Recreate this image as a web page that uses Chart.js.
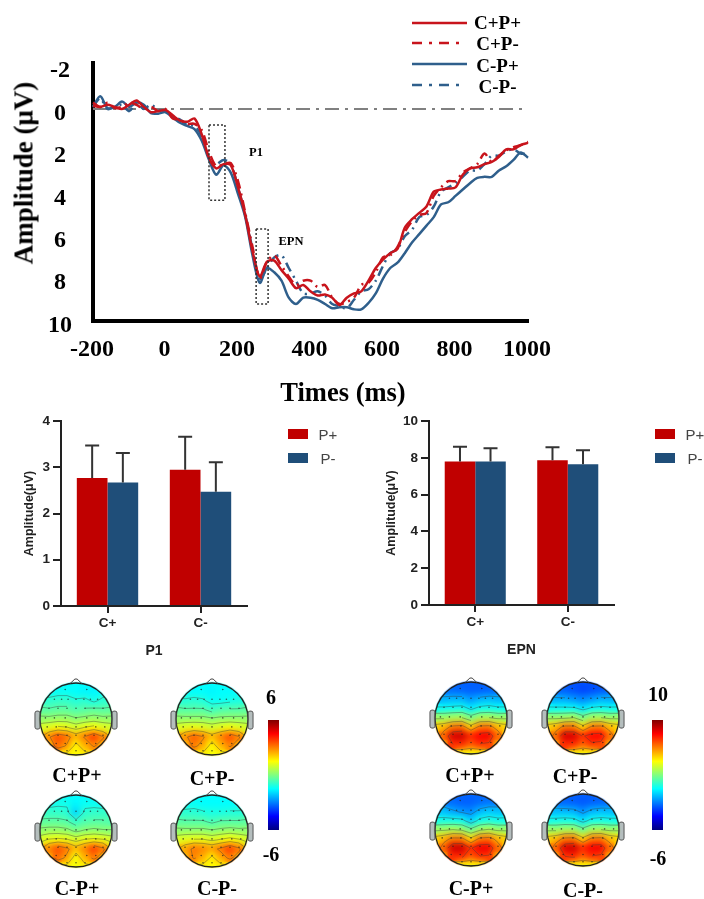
<!DOCTYPE html>
<html>
<head>
<meta charset="utf-8">
<title>ERP amplitudes and topographies</title>
<script src="https://cdn.jsdelivr.net/npm/chart.js@4"></script>
<style>
    html, body { margin: 0; padding: 0; background: #fff; }
    #page { position: relative; width: 704px; height: 899px; overflow: hidden; filter: blur(0.5px); }
    canvas { position: absolute; }
    .lbl { position: absolute; transform: translate(-50%, -50%); white-space: nowrap; }
    .serif { font: bold 20px "Liberation Serif", serif; color: #000; }
    .sans { font: 15px "Liberation Sans", sans-serif; color: #444; }
    .swatch { position: absolute; width: 20px; height: 10px; }
</style>
</head>
<body>
<div id="page"></div>
<script>
const COLORS = {
    RED: '#C00000',
    BLUE: '#1F4E79',
    LINE_RED: '#C8141C',
    LINE_BLUE: '#2F5F8C',
    ZERO: '#808080',
    AXIS: '#222'
};
const SERIF = '"Liberation Serif", serif';
const SANS = '"Liberation Sans", sans-serif';

// ERP waveforms, every 20 ms
const times = [-200, -180, -160, -140, -120, -100, -80, -60, -40, -20, 0, 20, 40, 60, 80, 100, 120, 140, 160, 180,
    200, 220, 240, 260, 280, 300, 320, 340, 360, 380, 400, 420, 440, 460, 480, 500, 520, 540, 560, 580,
    600, 620, 640, 660, 680, 700, 720, 740, 760, 780, 800, 820, 840, 860, 880, 900, 920, 940, 960, 980, 1000];
const cPlusPPlus = [-.15, -.1, -.2, -.1, 0, -.2, -.4, -.1, .15, .1, .05, .3, .55, .6, .45, 1.2, 2.3, 2.8, 2.6, 2.65,
    3.7, 5, 6.7, 7.9, 7.2, 7.15, 7.6, 8, 8.45, 8.3, 8.6, 8.8, 8.75, 8.9, 9.25, 8.9, 8.7, 8.6, 8.1, 7.5,
    7.1, 6.8, 6.6, 5.6, 5.2, 4.9, 4.6, 3.9, 3.8, 3.75, 3.7, 3.1, 2.8, 2.75, 2.6, 2.5, 2.25, 1.9, 1.9, 1.7, 1.6];
const cPlusPMinus = [-.3, -.1, -.3, -.05, -.1, -.3, -.2, 0, -.1, .1, 0, .45, .5, .7, .7, 1, 2, 2.7, 2.6, 2.55,
    3.4, 4.9, 6.5, 8, 7.2, 6.9, 7.4, 7.9, 8.3, 8.1, 8.1, 8.4, 8.3, 8.9, 9.2, 9.1, 8.9, 8.3, 8.2, 7.7,
    7, 6.9, 6.5, 5.8, 5.3, 5, 4.9, 4.1, 3.7, 3.4, 3.4, 3, 2.8, 2.6, 2.1, 2.5, 2.2, 1.95, 1.8, 1.7, 1.55];
const cMinusPPlus = [-.1, -.6, -.05, -.1, -.35, -.1, -.3, -.2, .2, .22, .15, .4, .65, .8, .95, 1.5, 2.4, 3.1, 2.65, 3,
    4, 5.1, 6.9, 8.2, 7.5, 7.7, 8.1, 8.9, 9.2, 8.9, 8.9, 9, 9.2, 9.4, 9.35, 9.35, 9.45, 9.45, 9.15, 8.7,
    8, 7.5, 7.25, 6.8, 6.3, 5.9, 5.5, 5.1, 4.5, 4.4, 4.1, 3.8, 3.5, 3.25, 3.2, 3.2, 2.9, 2.7, 2.4, 2.05, 2.3];
const cMinusPMinus = [-.1, -.5, 0, -.1, -.2, .1, -.3, 0, -.2, .05, .1, .35, .5, .75, .8, 1.3, 2.3, 2.6, 2.4, 2.6,
    3.7, 5, 6.6, 8, 7.5, 7, 6.9, 7.5, 8.1, 8.7, 8.7, 8.6, 8.8, 9.2, 9.3, 9.4, 9, 8.6, 8.5, 8.1,
    7.4, 6.8, 6.6, 6, 5.7, 5.1, 5, 4.6, 3.9, 3.7, 3.5, 3.2, 2.9, 2.9, 2.6, 2.2, 2.2, 2, 1.9, 2.1, 2.1];
const yTickValues = [-2, 0, 2, 4, 6, 8, 10];
const xTickValues = [-200, 0, 200, 400, 600, 800, 1000];

// dotted windows on the waveform plot: ms range and amplitude range
const windowFrom = [120, 250];
const windowTo = [164, 283];
const windowTop = [.75, 5.66];
const windowBottom = [4.3, 9.2];

// bar charts, the error arrays hold the top of each whisker
const barCategories = ['C+', 'C-'];
const p1PPlus = [2.77, 2.95];
const p1PMinus = [2.67, 2.47];
const p1PPlusErr = [3.47, 3.66];
const p1PMinusErr = [3.31, 3.11];
const epnPPlus = [7.8, 7.87];
const epnPMinus = [7.8, 7.65];
const epnPPlusErr = [8.6, 8.58];
const epnPMinusErr = [8.53, 8.42];

// scalp maps: values on a 9x9 grid, top row is the front of the head
const gridX = [-1, -.75, -.5, -.25, 0, .25, .5, .75, 1];
const gridY = [1, .75, .5, .25, 0, -.25, -.5, -.75, -1];
const electrodeRows = [.82, .55, .3, .03, -.22, -.45, -.68, -.88];
const electrodeCols = [
    [-.3, .3],
    [-.6, -.4, -.22, 0, .22, .4, .6],
    [-.75, -.5, -.25, 0, .25, .5, .75],
    [-.85, -.6, -.3, 0, .3, .6, .85],
    [-.8, -.55, -.28, 0, .28, .55, .8],
    [-.75, -.5, -.25, 0, .25, .5, .75],
    [-.55, -.3, 0, .3, .55],
    [-.25, 0, .25]
];
const p1Levels = [-1.2, -.6, 0, .6, 1.2, 1.9, 2.9];
const epnLevels = [-1.6, -.2, 1.2, 2.6, 4, 5.6, 7.4];

const p1MapCPlusPPlus = [
    [-1.5, -1.5, -1.5, -1.5, -1.5, -1.5, -1.5, -1.5, -1.5],
    [-1.5, -1.5, -1.4, -1.4, -1.5, -1.6, -1.6, -1.5, -1.4],
    [-1, -1, -.9, -.9, -1.1, -1, -1.3, -1, -1],
    [-.4, -.5, -.4, -.4, -.6, -.5, -.4, -.5, -.4],
    [.2, .2, .3, .3, .1, .2, .3, .2, .2],
    [1, 1.2, 1.4, 1.3, 1, 1.3, 1.5, 1.2, 1],
    [1.8, 2.8, 3.6, 3.2, 2.4, 3, 3.8, 3, 1.8],
    [1.5, 2.2, 3.3, 2.8, 1.6, 2.4, 3, 2.4, 1.5],
    [1.4, 1.5, 1.6, 1.6, 1.5, 1.6, 1.6, 1.5, 1.4]
];
const p1MapCPlusPMinus = [
    [-1.5, -1.5, -1.5, -1.5, -1.5, -1.5, -1.5, -1.5, -1.5],
    [-1.5, -1.5, -1.5, -1.5, -1.6, -1.5, -1.5, -1.5, -1.5],
    [-1, -1.1, -1, -1.1, -1.4, -1.4, -1.3, -1.2, -1],
    [-.4, -.5, -.5, -.5, -.8, -.6, -.5, -.5, -.4],
    [.2, .2, .2, .2, .1, .2, .2, .2, .2],
    [1, 1.2, 1.3, 1.2, 1, 1.2, 1.4, 1.2, 1],
    [1.8, 2.7, 3.4, 3, 2.3, 2.9, 3.6, 3, 1.8],
    [1.5, 2.2, 3.1, 2.6, 1.5, 2.4, 3, 2.4, 1.5],
    [1.4, 1.5, 1.6, 1.6, 1.4, 1.5, 1.6, 1.5, 1.4]
];
const p1MapCMinusPPlus = [
    [-1.5, -1.5, -1.5, -1.5, -1.5, -1.5, -1.5, -1.5, -1.5],
    [-1.5, -1.4, -1.3, -1.3, -1.6, -1.4, -1.4, -1.5, -1.5],
    [-1, -.9, -.9, -1, -2, -1, -.9, -.9, -1],
    [-.4, -.4, -.4, -.5, -.9, -.6, -.5, -.5, -.6],
    [.2, .3, .3, .2, -.1, .1, .2, .1, .1],
    [1, 1.3, 1.4, 1.3, 1, 1.3, 1.4, 1.3, 1],
    [1.8, 2.9, 3.6, 3.1, 2.3, 2.9, 3.8, 3.1, 1.8],
    [1.5, 2.3, 3.3, 2.7, 1.4, 2.4, 3.1, 2.4, 1.5],
    [1.4, 1.5, 1.6, 1.6, 1.4, 1.6, 1.6, 1.5, 1.4]
];
const p1MapCMinusPMinus = [
    [-1.5, -1.5, -1.5, -1.5, -1.5, -1.5, -1.5, -1.5, -1.5],
    [-1.5, -1.5, -1.4, -1.5, -1.5, -1.5, -1.5, -1.5, -1.5],
    [-1, -1, -1, -1.1, -1.2, -1.2, -1.1, -1.1, -1],
    [-.4, -.5, -.5, -.5, -.7, -.5, -.5, -.5, -.4],
    [.2, .2, .2, .2, .1, .2, .3, .2, .2],
    [1, 1.2, 1.3, 1.3, 1.1, 1.3, 1.5, 1.3, 1],
    [1.8, 2.5, 3.1, 2.9, 2.6, 3.1, 3.8, 3.1, 1.8],
    [1.5, 2.2, 3, 2.5, 1.7, 2.5, 3.1, 2.4, 1.5],
    [1.4, 1.5, 1.6, 1.6, 1.5, 1.6, 1.6, 1.5, 1.4]
];
const epnMapCPlusPPlus = [
    [-2.5, -2.5, -2.5, -2.5, -2.5, -2.5, -2.5, -2.5, -2.5],
    [-2.3, -2.3, -2.3, -2.4, -2.5, -2.5, -2.4, -2.3, -2.3],
    [-1.2, -1.2, -1.1, -1.1, -1.6, -1.2, -1, -1.2, -1.2],
    [.1, .1, .2, .3, -.3, .2, .3, .1, .1],
    [2.4, 2.4, 2.6, 2.7, 1.8, 2.6, 2.7, 2.4, 2.4],
    [4.6, 5, 6, 6.2, 4.6, 6, 6.1, 5, 4.6],
    [4.5, 6.4, 8.6, 8.8, 7.4, 8, 8.2, 6.4, 4.5],
    [4, 5.2, 7.3, 7.4, 6.6, 7.3, 7.1, 5.2, 4],
    [3.5, 3.6, 3.8, 3.9, 3.9, 3.9, 3.8, 3.6, 3.5]
];
const epnMapCPlusPMinus = [
    [-2.6, -2.6, -2.6, -2.7, -2.7, -2.7, -2.6, -2.6, -2.6],
    [-2.4, -2.4, -2.5, -2.7, -2.9, -2.8, -2.6, -2.4, -2.4],
    [-1.2, -1.3, -1.3, -1.6, -1.9, -1.6, -1.2, -1.3, -1.2],
    [.1, .1, .1, .1, -.4, .1, .2, .1, .1],
    [2.4, 2.4, 2.5, 2.7, 1.8, 2.6, 2.7, 2.4, 2.4],
    [4.6, 5, 6, 6, 4.5, 5.9, 6, 5, 4.6],
    [4.5, 6.3, 8.6, 8.6, 7.3, 7.9, 8, 6.3, 4.5],
    [4, 5.2, 7.4, 7.4, 6.5, 7.2, 7, 5.2, 4],
    [3.5, 3.6, 3.8, 3.9, 3.9, 3.9, 3.8, 3.6, 3.5]
];
const epnMapCMinusPPlus = [
    [-2.4, -2.4, -2.4, -2.4, -2.4, -2.4, -2.4, -2.4, -2.4],
    [-2, -2.1, -2.3, -2.5, -2.5, -2.3, -2.2, -2.1, -2],
    [-.9, -1, -1.4, -1.7, -1.9, -1.2, -.8, -1, -.9],
    [.2, .3, .3, .2, -.8, .2, .4, .2, .2],
    [2.4, 2.5, 2.7, 2.5, 1.6, 2.5, 2.8, 2.4, 2.4],
    [4.6, 5.1, 6, 6, 4.4, 6, 6.2, 5.1, 4.6],
    [4.5, 6.4, 8.7, 8.8, 7.3, 8.2, 8.2, 6.4, 4.5],
    [4, 5.2, 7.4, 7.5, 6.6, 7.3, 7.2, 5.2, 4],
    [3.5, 3.6, 3.8, 3.9, 3.9, 3.9, 3.8, 3.6, 3.5]
];
const epnMapCMinusPMinus = [
    [-2.5, -2.5, -2.5, -2.5, -2.5, -2.5, -2.5, -2.5, -2.5],
    [-2.3, -2.3, -2.4, -2.5, -2.6, -2.5, -2.4, -2.3, -2.3],
    [-1.1, -1.1, -1.1, -1.2, -1.8, -1.2, -1, -1.1, -1.1],
    [.2, .2, .3, .2, -.5, .2, .3, .2, .2],
    [2.4, 2.4, 2.6, 2.6, 1.7, 2.6, 2.7, 2.4, 2.4],
    [4.6, 5, 6, 6.1, 4.5, 6, 6.1, 5, 4.6],
    [4.5, 6.4, 8.5, 8.8, 7.4, 8.1, 8.2, 6.4, 4.5],
    [4, 5.2, 7.3, 7.5, 6.6, 7.3, 7.1, 5.2, 4],
    [3.5, 3.6, 3.8, 3.9, 3.9, 3.9, 3.8, 3.6, 3.5]
];

const page = document.getElementById('page');

const addCanvas = (left, top, width, height) => {
    const canvas = document.createElement('canvas');
    canvas.width = width;
    canvas.height = height;
    canvas.style.left = `${left}px`;
    canvas.style.top = `${top}px`;
    page.appendChild(canvas);
    return canvas;
};

const addLabel = (text, x, y, cls, size, rotate) => {
    const el = document.createElement('div');
    el.className = `lbl ${cls}`;
    el.textContent = text;
    el.style.left = `${x}px`;
    el.style.top = `${y}px`;
    if (size) el.style.fontSize = `${size}px`;
    if (rotate) el.style.transform = `translate(-50%, -50%) rotate(${rotate}deg)`;
    page.appendChild(el);
};

/**
 * Jet colour map, t runs from 0 to 1.
 */
const jet = t => {
    const ch = c => Math.round(255 * Math.min(1, Math.max(0, 1.5 - Math.abs(4 * t - c))));
    return `rgb(${ch(3)}, ${ch(2)}, ${ch(1)})`;
};

/* ---------- waveform plot ---------- */

const toPoints = values => times.map((t, i) => ({ x: t, y: values[i] }));

const windowsPlugin = {
    id: 'windows',
    afterDatasetsDraw(chart) {
        const { ctx, scales } = chart;
        ctx.save();
        ctx.strokeStyle = '#333';
        ctx.lineWidth = 1.5;
        ctx.setLineDash([2, 2]);
        windowFrom.forEach((from, i) => {
            const x0 = scales.x.getPixelForValue(from);
            const x1 = scales.x.getPixelForValue(windowTo[i]);
            const y0 = scales.y.getPixelForValue(windowTop[i]);
            const y1 = scales.y.getPixelForValue(windowBottom[i]);
            ctx.strokeRect(x0, y0, x1 - x0, y1 - y0);
        });
        ctx.restore();
    }
};

const waveDataset = (label, values, color, dash) => ({
    label,
    data: toPoints(values),
    showLine: true,
    borderColor: color,
    borderWidth: 2.5,
    borderDash: dash || [],
    pointRadius: 0,
    tension: 0.3,
    clip: false
});

new Chart(addCanvas(0, 0, 704, 410), {
    type: 'scatter',
    data: {
        datasets: [
            waveDataset('C+P+', cPlusPPlus, COLORS.LINE_RED),
            waveDataset('C+P-', cPlusPMinus, COLORS.LINE_RED, [10, 5, 2, 5]),
            waveDataset('C-P+', cMinusPPlus, COLORS.LINE_BLUE),
            waveDataset('C-P-', cMinusPMinus, COLORS.LINE_BLUE, [10, 5, 2, 5]),
            {
                label: 'baseline',
                data: [{ x: -200, y: 0 }, { x: 1000, y: 0 }],
                showLine: true,
                borderColor: COLORS.ZERO,
                borderWidth: 2,
                borderDash: [14, 6, 3, 6],
                pointRadius: 0
            }
        ]
    },
    options: {
        responsive: false,
        animation: false,
        layout: { padding: { left: 0, right: 176, top: 63, bottom: 0 } },
        plugins: { legend: { display: false }, tooltip: { enabled: false } },
        scales: {
            x: {
                type: 'linear',
                min: -200,
                max: 1000,
                afterFit: scale => { scale.height = 89; },
                afterBuildTicks: scale => { scale.ticks = xTickValues.map(value => ({ value })); },
                grid: { display: false },
                border: { color: '#000', width: 4 },
                ticks: {
                    color: '#000',
                    padding: 6,
                    labelOffset: -1,
                    maxRotation: 0,
                    autoSkip: false,
                    font: { family: SERIF, size: 24, weight: 'bold' },
                    callback: v => String(v)
                }
            },
            y: {
                reverse: true,
                min: -2.17,
                max: 10,
                afterFit: scale => { scale.width = 93; },
                afterBuildTicks: scale => { scale.ticks = yTickValues.map(value => ({ value })); },
                grid: { display: false },
                border: { color: '#000', width: 4 },
                ticks: {
                    color: '#000',
                    padding: 13,
                    labelOffset: 4.5,
                    crossAlign: 'center',
                    autoSkip: false,
                    font: { family: SERIF, size: 24, weight: 'bold' },
                    callback: v => String(v)
                }
            }
        }
    },
    plugins: [windowsPlugin]
});

addLabel('Amplitude (μV)', 24, 173, 'serif', 27, -90);
addLabel('Times (ms)', 343, 392, 'serif', 26.5);
addLabel('P1', 256, 152, 'serif', 12.5);
addLabel('EPN', 291, 241, 'serif', 12.5);

// legend of the waveform plot
const legendSvg = document.createElementNS('http://www.w3.org/2000/svg', 'svg');
legendSvg.setAttribute('width', '704');
legendSvg.setAttribute('height', '100');
legendSvg.style.position = 'absolute';
legendSvg.style.left = '0';
legendSvg.style.top = '0';
const legendRows = [
    ['C+P+', 23, 467, COLORS.LINE_RED, '', 497.5, 23],
    ['C+P-', 43, 461, COLORS.LINE_RED, '10 7 3 7', 497.5, 44],
    ['C-P+', 64, 467, COLORS.LINE_BLUE, '', 497.5, 66],
    ['C-P-', 85, 461, COLORS.LINE_BLUE, '10 7 3 7', 497.5, 87]
];
legendRows.forEach(([text, y, x2, color, dash, tx, ty]) => {
    const line = document.createElementNS('http://www.w3.org/2000/svg', 'line');
    line.setAttribute('x1', '412');
    line.setAttribute('x2', String(x2));
    line.setAttribute('y1', String(y));
    line.setAttribute('y2', String(y));
    line.setAttribute('stroke', color);
    line.setAttribute('stroke-width', '2.5');
    if (dash) line.setAttribute('stroke-dasharray', dash);
    legendSvg.appendChild(line);
    addLabel(text, tx, ty, 'serif', 19);
});
page.appendChild(legendSvg);

/* ---------- bar charts ---------- */

const errorBarsPlugin = {
    id: 'errorBars',
    afterDatasetsDraw(chart) {
        const { ctx, scales } = chart;
        ctx.save();
        ctx.strokeStyle = '#333';
        ctx.lineWidth = 2;
        chart.data.datasets.forEach((ds, i) => {
            chart.getDatasetMeta(i).data.forEach((bar, j) => {
                const top = scales.y.getPixelForValue(ds.errorTop[j]);
                ctx.beginPath();
                ctx.moveTo(bar.x, bar.y);
                ctx.lineTo(bar.x, top);
                ctx.moveTo(bar.x - 7, top);
                ctx.lineTo(bar.x + 7, top);
                ctx.stroke();
            });
        });
        ctx.restore();
    }
};

const barChart = (cfg) => new Chart(addCanvas(cfg.left, 410, 280, 260), {
    type: 'bar',
    data: {
        labels: barCategories,
        datasets: [
            { label: 'P+', data: cfg.plus, errorTop: cfg.plusErr, backgroundColor: COLORS.RED, barPercentage: 1, categoryPercentage: 0.66 },
            { label: 'P-', data: cfg.minus, errorTop: cfg.minusErr, backgroundColor: COLORS.BLUE, barPercentage: 1, categoryPercentage: 0.66 }
        ]
    },
    options: {
        responsive: false,
        animation: false,
        layout: { padding: { left: 0, right: cfg.right, top: cfg.top, bottom: 0 } },
        plugins: { legend: { display: false }, tooltip: { enabled: false } },
        scales: {
            x: {
                afterFit: scale => { scale.height = cfg.xHeight; },
                grid: { offset: false, drawOnChartArea: false, color: COLORS.AXIS, lineWidth: 2, tickLength: 7 },
                border: { color: COLORS.AXIS, width: 2 },
                ticks: { color: '#222', padding: 2, font: { family: SANS, size: 13.5, weight: 'bold' } },
                title: {
                    display: true,
                    text: cfg.title,
                    color: '#222',
                    padding: { top: 0, bottom: cfg.titlePad },
                    font: { family: SANS, size: 14, weight: 'bold' }
                }
            },
            y: {
                min: 0,
                max: cfg.max,
                afterFit: scale => { scale.width = cfg.axisX; },
                grid: { drawOnChartArea: false, color: COLORS.AXIS, lineWidth: 2, tickLength: 8 },
                border: { color: COLORS.AXIS, width: 2 },
                ticks: { color: '#222', stepSize: cfg.step, padding: 3, font: { family: SANS, size: 13.5, weight: 'bold' } },
                title: {
                    display: true,
                    text: 'Amplitude(μV)',
                    color: '#222',
                    padding: { top: cfg.yTitlePad, bottom: 0 },
                    font: { family: SANS, size: 12.5, weight: 'bold' }
                }
            }
        }
    },
    plugins: [errorBarsPlugin]
});

barChart({ left: 0, title: 'P1', plus: p1PPlus, minus: p1PMinus, plusErr: p1PPlusErr, minusErr: p1PMinusErr,
    max: 4, step: 1, axisX: 61, right: 33, top: 10, xHeight: 64, titlePad: 10.6, yTitlePad: 22.5 });
barChart({ left: 352, title: 'EPN', plus: epnPPlus, minus: epnPMinus, plusErr: epnPPlusErr, minusErr: epnPMinusErr,
    max: 10, step: 2, axisX: 77, right: 18, top: 10.7, xHeight: 65, titlePad: 11.6, yTitlePad: 32.5 });

const addBarLegend = x => {
    [[429, COLORS.RED, 'P+'], [453, COLORS.BLUE, 'P-']].forEach(([y, color, text]) => {
        const swatch = document.createElement('div');
        swatch.className = 'swatch';
        swatch.style.left = `${x}px`;
        swatch.style.top = `${y}px`;
        swatch.style.background = color;
        page.appendChild(swatch);
        addLabel(text, x + 40, y + 5, 'sans');
    });
};
addBarLegend(288);
addBarLegend(655);

/* ---------- scalp maps ---------- */

const contourSegments = (grid, level, xs, ys) => {
    const segments = [];
    const cross = (x0, y0, v0, x1, y1, v1) => {
        const f = (level - v0) / (v1 - v0);
        return [x0 + f * (x1 - x0), y0 + f * (y1 - y0)];
    };
    for (let r = 0; r < grid.length - 1; r++) {
        for (let c = 0; c < grid[r].length - 1; c++) {
            const corners = [
                [xs[c], ys[r], grid[r][c]],
                [xs[c + 1], ys[r], grid[r][c + 1]],
                [xs[c + 1], ys[r + 1], grid[r + 1][c + 1]],
                [xs[c], ys[r + 1], grid[r + 1][c]]
            ];
            const hits = [];
            corners.forEach((a, k) => {
                const b = corners[(k + 1) % 4];
                if ((a[2] - level) * (b[2] - level) < 0) hits.push(cross(...a, ...b));
            });
            for (let k = 0; k + 1 < hits.length; k += 2) segments.push([hits[k], hits[k + 1]]);
        }
    }
    return segments;
};

const HEAT_INDEX = 1;

const headPlugin = {
    id: 'head',
    beforeDatasetDraw(chart, args) {
        if (args.index !== HEAT_INDEX) return;
        const { ctx, scales } = chart;
        const cx = scales.x.getPixelForValue(0);
        const cy = scales.y.getPixelForValue(0);
        const r = scales.x.getPixelForValue(1) - cx;
        ctx.save();
        ctx.beginPath();
        ctx.arc(cx, cy, r, 0, Math.PI * 2);
        ctx.clip();
    },
    afterDatasetDraw(chart, args, opts) {
        if (args.index !== HEAT_INDEX) return;
        const { ctx, scales } = chart;
        const px = v => scales.x.getPixelForValue(v);
        const py = v => scales.y.getPixelForValue(v);
        const cx = px(0);
        const cy = py(0);
        const r = px(1) - cx;
        ctx.restore();

        // soften the cells into a continuous map, with only a thin rim past the outline
        ctx.save();
        ctx.beginPath();
        ctx.arc(cx, cy, r + 1.5, 0, Math.PI * 2);
        ctx.clip();
        ctx.filter = 'blur(3px)';
        ctx.drawImage(chart.canvas, 0, 0);
        ctx.restore();

        // contour lines
        ctx.save();
        ctx.beginPath();
        ctx.arc(cx, cy, r, 0, Math.PI * 2);
        ctx.clip();
        ctx.strokeStyle = 'rgba(60, 60, 60, 0.5)';
        ctx.lineWidth = 0.8;
        ctx.beginPath();
        opts.levels.forEach(level => {
            contourSegments(opts.grid, level, gridX, gridY).forEach(([a, b]) => {
                ctx.moveTo(px(a[0]), py(a[1]));
                ctx.lineTo(px(b[0]), py(b[1]));
            });
        });
        ctx.stroke();
        ctx.restore();

        // head outline, nose and ears
        ctx.save();
        ctx.strokeStyle = '#222';
        ctx.lineWidth = 1.3;
        ctx.beginPath();
        ctx.arc(cx, cy, r, 0, Math.PI * 2);
        ctx.stroke();
        ctx.lineWidth = 1;
        ctx.strokeStyle = '#444';
        ctx.beginPath();
        ctx.moveTo(px(-.17), py(.98));
        ctx.lineTo(px(-.03), py(1.11));
        ctx.lineTo(px(.03), py(1.11));
        ctx.lineTo(px(.17), py(.98));
        ctx.stroke();
        ctx.strokeStyle = '#555';
        ctx.fillStyle = 'rgba(90, 110, 110, 0.45)';
        [-1, 1].forEach(side => {
            ctx.beginPath();
            ctx.roundRect(px(side > 0 ? 1 : -1.14), py(.22), r * 0.14, r * 0.5, 2);
            ctx.fill();
            ctx.stroke();
        });
        ctx.restore();
    }
};

const headChart = (cx, cy, grid, min, max, levels) => {
    const cells = [];
    grid.forEach((row, r) => row.forEach((v, c) => cells.push({ x: gridX[c], y: gridY[r], v })));
    const electrodes = [];
    electrodeRows.forEach((y, r) => electrodeCols[r].forEach(x => electrodes.push({ x, y })));
    new Chart(addCanvas(cx - 55, cy - 55, 110, 110), {
        type: 'scatter',
        data: {
            datasets: [
                { data: electrodes, pointRadius: 0.8, pointBackgroundColor: 'rgba(30, 30, 30, 0.7)', pointBorderWidth: 0 },
                {
                    data: cells,
                    clip: false,
                    pointStyle: 'rect',
                    pointRadius: 7.4,
                    pointBorderWidth: 0,
                    pointBackgroundColor: ctx => jet((ctx.raw.v - min) / (max - min))
                }
            ]
        },
        options: {
            responsive: false,
            animation: false,
            layout: { padding: 14.5 },
            plugins: {
                legend: { display: false },
                tooltip: { enabled: false },
                head: { grid, levels }
            },
            scales: {
                x: { display: false, min: -1.125, max: 1.125 },
                y: { display: false, min: -1.125, max: 1.125 }
            }
        },
        plugins: [headPlugin]
    });
};

headChart(76, 719, p1MapCPlusPPlus, -6, 6, p1Levels);
headChart(212, 719, p1MapCPlusPMinus, -6, 6, p1Levels);
headChart(76, 831, p1MapCMinusPPlus, -6, 6, p1Levels);
headChart(212, 831, p1MapCMinusPMinus, -6, 6, p1Levels);
headChart(471, 718, epnMapCPlusPPlus, -6, 10, epnLevels);
headChart(583, 718, epnMapCPlusPMinus, -6, 10, epnLevels);
headChart(471, 830, epnMapCMinusPPlus, -6, 10, epnLevels);
headChart(583, 830, epnMapCMinusPMinus, -6, 10, epnLevels);

addLabel('C+P+', 77, 775, 'serif');
addLabel('C+P-', 212, 778, 'serif');
addLabel('C-P+', 77, 888, 'serif');
addLabel('C-P-', 217, 888, 'serif');
addLabel('C+P+', 470, 775, 'serif');
addLabel('C+P-', 575, 776, 'serif');
addLabel('C-P+', 471, 888, 'serif');
addLabel('C-P-', 583, 890, 'serif');

/* ---------- colour bars ---------- */

const colorBar = (left, min, max) => new Chart(addCanvas(left, 720, 11, 110), {
    type: 'bar',
    data: {
        labels: [''],
        datasets: [{
            data: [[min, max]],
            barPercentage: 1,
            categoryPercentage: 1,
            backgroundColor: ctx => {
                const area = ctx.chart.chartArea;
                if (!area) return '#000';
                const g = ctx.chart.ctx.createLinearGradient(0, area.bottom, 0, area.top);
                for (let i = 0; i <= 16; i++) g.addColorStop(i / 16, jet(i / 16));
                return g;
            }
        }]
    },
    options: {
        responsive: false,
        animation: false,
        plugins: { legend: { display: false }, tooltip: { enabled: false } },
        scales: { x: { display: false }, y: { display: false, min, max } }
    }
});

colorBar(268, -6, 6);
colorBar(652, -6, 10);
addLabel('6', 271, 697, 'serif');
addLabel('-6', 271, 854, 'serif');
addLabel('10', 658, 694, 'serif');
addLabel('-6', 658, 858, 'serif');
</script>
</body>
</html>
